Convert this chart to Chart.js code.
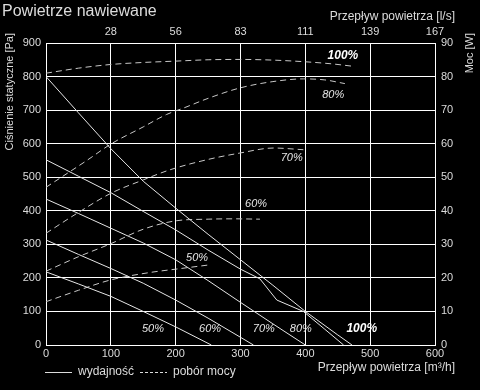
<!DOCTYPE html>
<html>
<head>
<meta charset="utf-8">
<script src="https://cdn.jsdelivr.net/npm/chart.js@4.4.1/dist/chart.umd.min.js"></script>
<style>
  html, body { margin: 0; padding: 0; background: #000; }
</style>
</head>
<body>
<canvas id="MyChart" width="480" height="390"></canvas>
<script>
// wydajność: [przepływ m3/h, ciśnienie Pa]
const wyd50 = [[0, 218], [50, 182], [100, 145], [150, 100], [200, 54], [255, 0]];
const wyd60 = [[0, 313], [50, 270], [100, 228], [150, 184], [200, 134], [250, 80], [300, 23], [320, 0]];
const wyd70 = [[0, 435], [50, 392], [100, 348], [150, 304], [200, 254], [250, 192], [300, 127], [350, 63], [400, 0]];
const wyd80 = [[0, 552], [50, 503], [100, 454], [150, 398], [200, 343], [250, 283], [300, 226], [330, 197], [356, 134], [397, 100], [430, 47], [459, 0]];
const wyd100 = [[0, 800], [50, 692], [100, 585], [150, 488], [200, 408], [250, 330], [300, 254], [350, 178], [400, 100], [450, 30], [472, 0]];

// pobór mocy: [przepływ m3/h, moc W]
const moc50 = [[0, 12.9], [50, 16.3], [100, 19.4], [160, 21.6], [200, 22.6], [253, 23.9]];
const moc60 = [[0, 22], [50, 26.3], [100, 30.2], [150, 34.5], [200, 37], [250, 37.5], [290, 37.6], [330, 37.5]];
const moc70 = [[0, 33.3], [50, 39.5], [100, 45.2], [150, 49.2], [191, 52.2], [250, 55.3], [299, 57.2], [351, 58.7], [397, 58.2]];
const moc80 = [[0, 47], [63, 55], [101, 60], [150, 65], [186, 68.7], [212, 70.6], [250, 73.5], [299, 76.6], [350, 78.5], [397, 79.3], [430, 79], [461, 77.9]];
const moc100 = [[0, 81], [50, 82.5], [100, 83.6], [150, 84.2], [200, 84.6], [250, 85], [300, 85.1], [350, 84.9], [400, 84.4], [440, 83.8], [472, 83.1]];

const percents = ['50%', '60%', '70%', '80%', '100%'];
// pozycje etykiet (m3/h, Pa)
const solidLabelPos = [[165, 48], [253, 48], [336, 48], [393, 48], [487, 48]];
const dashedLabelPos = [[233, 260], [324, 419], [379, 556], [443, 746], [458, 861]];

const topTickLabels = ['', '28', '56', '83', '111', '139', '167'];

const solidSeries = [wyd50, wyd60, wyd70, wyd80, wyd100];
const dashedSeries = [moc50, moc60, moc70, moc80, moc100];

const FONT = '"Liberation Sans", Arial, sans-serif';
const TXT = '#dcdcdc';

const datasets = [];
solidSeries.forEach(s => {
    datasets.push({
        data: s.map(p => ({ x: p[0], y: p[1] })),
        xAxisID: 'x',
        yAxisID: 'y',
        borderColor: '#e6e6e6',
        borderWidth: 1,
        pointRadius: 0,
        tension: 0
    });
});
dashedSeries.forEach(s => {
    datasets.push({
        data: s.map(p => ({ x: p[0], y: p[1] })),
        xAxisID: 'x',
        yAxisID: 'y2',
        borderColor: '#c8c8c8',
        borderWidth: 1,
        borderDash: [6, 4],
        pointRadius: 0,
        cubicInterpolationMode: 'monotone'
    });
});

const textPlugin = {
    id: 'texts',
    beforeDraw(chart) {
        const ctx = chart.ctx;
        ctx.save();
        ctx.fillStyle = '#000';
        ctx.fillRect(0, 0, chart.width, chart.height);
        ctx.restore();
    },
    afterDraw(chart) {
        const ctx = chart.ctx;
        const xs = chart.scales.x, ys = chart.scales.y;
        ctx.save();
        ctx.fillStyle = TXT;

        // tytuł
        ctx.font = '16px ' + FONT;
        ctx.textAlign = 'left';
        ctx.textBaseline = 'alphabetic';
        ctx.fillText('Powietrze nawiewane', 2, 16);

        // tytuły osi
        ctx.font = '12px ' + FONT;
        ctx.textAlign = 'right';
        ctx.textBaseline = 'middle';
        ctx.fillText('Przepływ powietrza [l/s]', 455, 17);
        ctx.fillText('Przepływ powietrza [m³/h]', 455, 368);

        ctx.font = '11px ' + FONT;
        ctx.save();
        ctx.translate(10, 33);
        ctx.rotate(-Math.PI / 2);
        ctx.fillText('Ciśnienie statyczne [Pa]', 0, 0);
        ctx.restore();
        ctx.save();
        ctx.translate(470, 33);
        ctx.rotate(-Math.PI / 2);
        ctx.fillText('Moc [W]', 0, 0);
        ctx.restore();

        // legenda
        ctx.strokeStyle = TXT;
        ctx.lineWidth = 1;
        ctx.beginPath();
        ctx.moveTo(45, 372.5);
        ctx.lineTo(72, 372.5);
        ctx.stroke();
        ctx.setLineDash([3, 2]);
        ctx.beginPath();
        ctx.moveTo(140, 372.5);
        ctx.lineTo(167, 372.5);
        ctx.stroke();
        ctx.setLineDash([]);
        ctx.font = '12px ' + FONT;
        ctx.textAlign = 'left';
        ctx.fillText('wydajność', 78, 372);
        ctx.fillText('pobór mocy', 173, 372);

        // etykiety krzywych
        ctx.textAlign = 'center';
        const drawLabels = (pos) => {
            pos.forEach((p, i) => {
                const bold = percents[i] === '100%';
                ctx.font = (bold ? 'italic bold 12px ' : 'italic 11px ') + FONT;
                ctx.fillStyle = bold ? '#ffffff' : '#e6e6e6';
                ctx.fillText(percents[i], xs.getPixelForValue(p[0]), ys.getPixelForValue(p[1]));
            });
        };
        drawLabels(solidLabelPos);
        drawLabels(dashedLabelPos);
        ctx.restore();
    }
};

const tickFont = { family: FONT, size: 11 };

const ctx = document.getElementById('MyChart').getContext('2d');
const chart = new Chart(ctx, {
    type: 'line',
    data: { datasets: datasets },
    options: {
        responsive: false,
        animation: false,
        layout: { padding: 0 },
        plugins: {
            legend: { display: false },
            tooltip: { enabled: false }
        },
        scales: {
            x: {
                type: 'linear',
                position: 'bottom',
                min: 0,
                max: 600,
                ticks: { stepSize: 100, color: TXT, font: tickFont, padding: 2, maxRotation: 0 },
                grid: { color: '#ffffff', lineWidth: 1, drawTicks: false },
                border: { color: '#ffffff' },
                afterFit: s => { s.height = 45; }
            },
            x2: {
                type: 'linear',
                position: 'top',
                min: 0,
                max: 600,
                ticks: {
                    stepSize: 100, color: TXT, font: tickFont, padding: 4, maxRotation: 0,
                    callback: (v, i) => topTickLabels[i]
                },
                grid: { display: false, drawTicks: false },
                border: { color: '#ffffff' },
                afterFit: s => { s.height = 43; }
            },
            y: {
                type: 'linear',
                position: 'left',
                min: 0,
                max: 900,
                ticks: { stepSize: 100, color: TXT, font: tickFont, padding: 5 },
                grid: { color: '#ffffff', lineWidth: 1, drawTicks: false },
                border: { color: '#ffffff' },
                afterFit: s => { s.width = 46; }
            },
            y2: {
                type: 'linear',
                position: 'right',
                min: 0,
                max: 90,
                ticks: { stepSize: 10, color: TXT, font: tickFont, padding: 6 },
                grid: { display: false, drawTicks: false },
                border: { color: '#ffffff' },
                afterFit: s => { s.width = 45; }
            }
        }
    },
    plugins: [textPlugin]
});
</script>
</body>
</html>
